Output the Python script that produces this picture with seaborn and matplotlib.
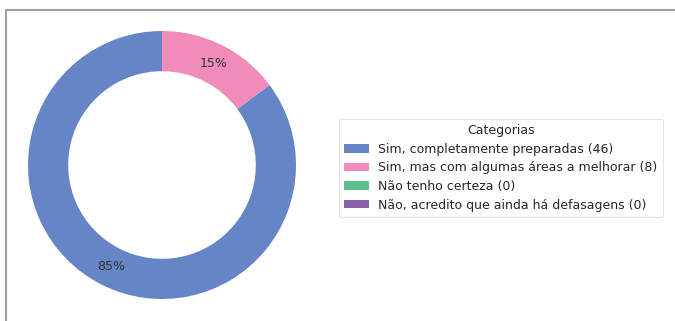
import matplotlib
matplotlib.use("Agg")
import matplotlib.pyplot as plt
from matplotlib.patches import Patch
from matplotlib.lines import Line2D
import seaborn as sns

# Survey answers and counts
categories = [
    "Sim, completamente preparadas",
    "Sim, mas com algumas áreas a melhorar",
    "Não tenho certeza",
    "Não, acredito que ainda há defasagens",
]
counts = [46, 8, 0, 0]
colors = ["#6585c6", "#f08cba", "#5ebd91", "#8862a8"]

sns.set_theme(style="white")
plt.rcParams["font.family"] = ["DejaVu Sans"]
palette = sns.color_palette(colors)

fig = plt.figure(figsize=(6.75, 3.21), dpi=100)
ax = fig.add_axes([28 / 675, 22 / 321, 268 / 675, 268 / 321])


def pct_label(p):
    return f"{p:.0f}%" if p > 0 else ""


wedges, texts, autotexts = ax.pie(
    counts,
    colors=palette,
    startangle=90,
    autopct=pct_label,
    pctdistance=0.85,
    radius=1.0,
    wedgeprops=dict(width=0.3, edgecolor="none"),
    textprops=dict(fontsize=9, color="#333333"),
)
ax.set_xlim(-1.0, 1.0)
ax.set_ylim(-1.0, 1.0)
ax.set_aspect("equal")

handles = [Patch(facecolor=c, edgecolor="none") for c in palette]
labels = [f"{cat} ({n})" for cat, n in zip(categories, counts)]
leg = fig.legend(
    handles,
    labels,
    title="Categorias",
    loc="center left",
    bbox_to_anchor=(0.502, 0.477),
    borderaxespad=0.0,
    fontsize=9,
    title_fontsize=9,
    frameon=True,
    handlelength=2.0,
    handleheight=0.65,
    handletextpad=0.7,
    borderpad=0.45,
    labelspacing=0.45,
)
leg.get_frame().set_edgecolor("#dddddd")
leg.get_frame().set_linewidth(0.8)

# thin frame lines along the top and left edges
fig.add_artist(Line2D([6 / 675, 1.0], [1 - 9.5 / 321, 1 - 9.5 / 321],
                      transform=fig.transFigure, color="#a0a0a0", lw=1.5))
fig.add_artist(Line2D([6 / 675, 6 / 675], [0.0, 1 - 9.5 / 321],
                      transform=fig.transFigure, color="#a0a0a0", lw=1.5))

fig.savefig("out.png", dpi=100)
